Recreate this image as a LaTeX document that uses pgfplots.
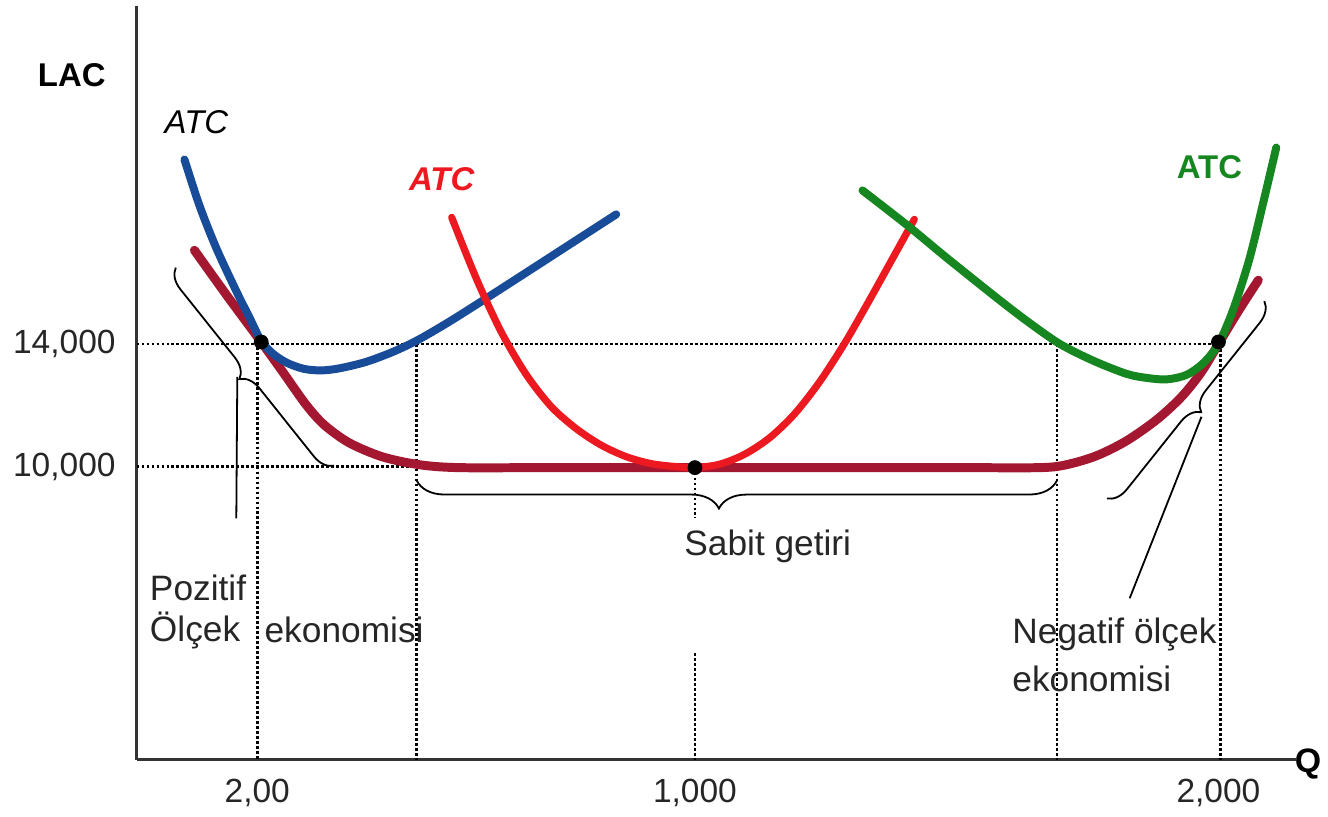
\documentclass[border=0pt]{standalone}
\usepackage{pgfplots}
\pgfplotsset{compat=1.18}
\usepackage{fontspec}
\setmainfont{Liberation Sans}
\usetikzlibrary{decorations.pathreplacing}
\definecolor{atcblue}{RGB}{24,76,152}
\definecolor{lacred}{RGB}{163,24,48}
\definecolor{atcred}{RGB}{236,26,32}
\definecolor{atcgreen}{RGB}{22,134,32}
\tikzset{guide/.style={black, line width=1.4pt, dash pattern=on 1.4pt off 1.1pt}}
\begin{document}
\begin{tikzpicture}
\begin{axis}[
  scale only axis, width=581.5pt, height=378pt,
  xmin=137, xmax=1300, ymin=57, ymax=813,
  axis x line=bottom, axis y line=left,
  axis line style={-, line width=1.5pt, black!80},
  xtick={258,697,1222}, xticklabels={{2,00},{1,000},{2,000}},
  ytick={351,474}, yticklabels={{10,000},{14,000}},
  major tick length=0pt,
  tick label style={font=\fontsize{16.8}{20}\selectfont, text=black!85},
  yticklabel style={xshift=-7pt},
  xticklabel style={yshift=-6pt},
  clip=false,
]
% bounding frame of the whole picture
\path (axis cs:0,0) rectangle (axis cs:1328,819);

% dotted guide lines
\addplot[guide] coordinates {(137,474) (1222,474)};
\addplot[guide] coordinates {(137,351) (420,351)};
\addplot[guide] coordinates {(258,476) (258,57)};
\addplot[guide] coordinates {(418,474) (418,57)};
\addplot[guide] coordinates {(1060,474) (1060,57)};
\addplot[guide] coordinates {(1224,474) (1224,57)};
\addplot[guide] coordinates {(697,350) (697,299)};
\addplot[guide] coordinates {(697,164) (697,57)};

% LAC
\addplot[lacred, line width=4.5pt, smooth, line cap=round] coordinates {
(195,568) (228,522) (262,476) (285,444) (307,413) (325,393) (350,375) (383,361)
(420,353) (460,350) (550,350) (700,350) (850,350) (960,350) (1043,350)
(1070,353) (1100,362) (1130,377) (1160,398) (1185,421) (1205,446) (1222,474) (1242,507) (1262,538)};

% blue ATC
\addplot[atcblue, line width=4pt, smooth, line cap=round] coordinates {
(185,659) (200,613) (217,570) (237,527) (250,501) (262,477) (274,464) (288,455)
(305,449) (322,447.5) (340,449.5) (367,456) (395,466.5) (420,478.5) (450,496) (488,520) (550,560) (618,604)};

% red ATC
\addplot[atcred, line width=3.6pt, smooth, line cap=round] coordinates {
(453,601) (478,539) (503,485.5) (528,443) (553,411) (578,389) (603,372.5) (628,361)
(653,354) (678,351) (697,350) (722,353.5) (747,363.5) (772,380) (797,404) (822,436)
(847,474.5) (872,518) (897,563) (917,599)};

% green ATC
\addplot[atcgreen, line width=4pt, smooth, line cap=round] coordinates {
(865,628) (910,593) (950,560) (1000,520) (1030,497) (1063,474) (1097,457) (1130,444)
(1150,440) (1170,438.5) (1190,443) (1207,455) (1222,474) (1237,509) (1253,559) (1267,616) (1280,671)};

% points
\addplot[only marks, mark=*, mark size=3.5pt, black] coordinates {(262,476) (697,350) (1222,476)};

% braces
\draw[black, line width=0.9pt, decorate, decoration={brace, amplitude=14pt, aspect=0.528}]
  (axis cs:1060,337) -- (axis cs:418,337);
\draw[black, line width=0.9pt, decorate, decoration={brace, amplitude=10pt, aspect=0.5}]
  (axis cs:335,352) -- (axis cs:176,551);
\draw[black, line width=0.9pt] (axis cs:238,441) -- (axis cs:237,299);
\draw[black, line width=0.9pt, decorate, decoration={brace, amplitude=10pt, aspect=0.5}]
  (axis cs:1268,517) -- (axis cs:1110,319);
\draw[black, line width=0.9pt] (axis cs:1205,401) -- (axis cs:1133,219);

% texts
\node[font=\fontsize{16.5}{20}\selectfont\bfseries] at (axis cs:72,744) {LAC};
\node[font=\fontsize{16.5}{20}\selectfont\itshape] at (axis cs:197,696) {ATC};
\node[font=\fontsize{16.5}{20}\selectfont\bfseries\itshape, text=atcred] at (axis cs:443,639) {ATC};
\node[font=\fontsize{16.5}{20}\selectfont\bfseries, text=atcgreen] at (axis cs:1213,651) {ATC};
\node[font=\fontsize{17}{20}\selectfont\bfseries] at (axis cs:1312,53) {Q};
\node[font=\fontsize{17.7}{20}\selectfont, text=black!85] at (axis cs:770,271) {Sabit getiri};
\node[font=\fontsize{17.7}{20}\selectfont, text=black!85, anchor=west, inner sep=0pt] at (axis cs:150,229) {Pozitif};
\node[font=\fontsize{17.7}{20}\selectfont, text=black!85, anchor=west, inner sep=0pt] at (axis cs:150,187) {Ölçek};
\node[font=\fontsize{17.7}{20}\selectfont, text=black!85, anchor=west, inner sep=0pt] at (axis cs:265,187) {ekonomisi};
\node[font=\fontsize{17.7}{20}\selectfont, text=black!85, anchor=west, inner sep=0pt] at (axis cs:1015,183) {Negatif ölçek};
\node[font=\fontsize{17.7}{20}\selectfont, text=black!85, anchor=west, inner sep=0pt] at (axis cs:1015,138) {ekonomisi};
\end{axis}
\end{tikzpicture}
\end{document}
